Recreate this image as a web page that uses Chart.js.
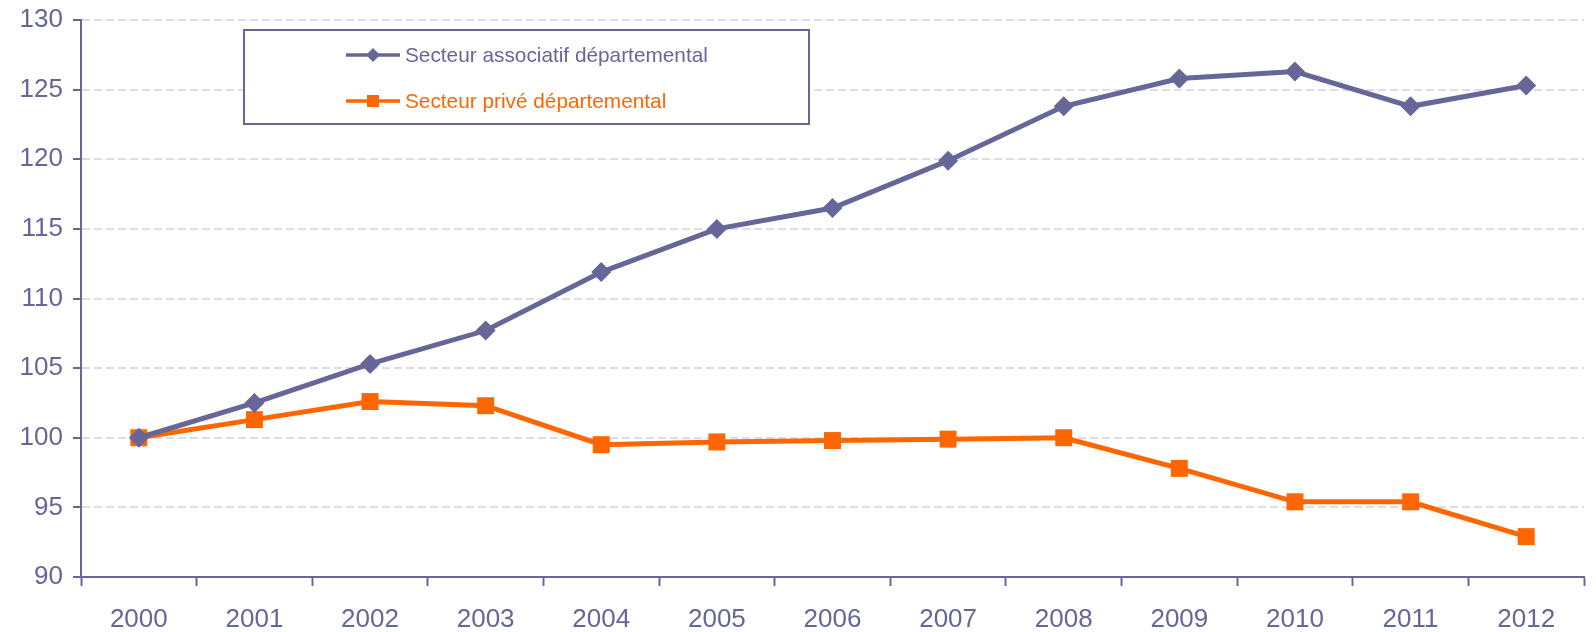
<!DOCTYPE html>
<html>
<head>
<meta charset="utf-8">
<script src="https://cdn.jsdelivr.net/npm/chart.js@4/dist/chart.umd.min.js"></script>
<style>
  html, body { margin: 0; padding: 0; background: #fff; }
  #wrap { position: relative; width: 1596px; height: 632px; }
</style>
</head>
<body>
<div id="wrap"><canvas id="chart"></canvas></div>
<script>
// categories + series
const years = ['2000', '2001', '2002', '2003', '2004', '2005', '2006', '2007', '2008', '2009', '2010', '2011', '2012'];
const associatif = [100, 102.5, 105.3, 107.7, 111.9, 115.0, 116.5, 119.9, 123.8, 125.8, 126.3, 123.8, 125.3];
const prive = [100, 101.3, 102.6, 102.3, 99.5, 99.7, 99.8, 99.9, 100.0, 97.8, 95.4, 95.4, 92.9];
const seriesNames = ['Secteur associatif départemental', 'Secteur privé départemental'];

const PURPLE = '#666699';
const ORANGE = '#FF6600';
const GRID = '#DCDCEC';
const FONT = '"Liberation Sans", Arial, sans-serif';

// boxed legend in the top-left of the plot
const boxLegend = {
    id: 'boxLegend',
    afterDraw(chart) {
        const ctx = chart.ctx;
        ctx.save();
        ctx.fillStyle = '#fff';
        ctx.fillRect(244, 30, 565, 94);
        ctx.strokeStyle = PURPLE;
        ctx.lineWidth = 2;
        ctx.strokeRect(244, 30, 565, 94);

        const rows = [
            { y: 55, color: PURPLE, shape: 'diamond', text: seriesNames[0] },
            { y: 101, color: ORANGE, shape: 'square', text: seriesNames[1] }
        ];
        rows.forEach(r => {
            ctx.strokeStyle = r.color;
            ctx.lineWidth = 3.5;
            ctx.beginPath();
            ctx.moveTo(346, r.y);
            ctx.lineTo(400, r.y);
            ctx.stroke();
            ctx.fillStyle = r.color;
            ctx.beginPath();
            if (r.shape === 'diamond') {
                ctx.moveTo(373, r.y - 7);
                ctx.lineTo(380, r.y);
                ctx.lineTo(373, r.y + 7);
                ctx.lineTo(366, r.y);
                ctx.closePath();
                ctx.fill();
            } else {
                ctx.fillRect(367, r.y - 6, 12, 12);
            }
            ctx.font = '20.8px ' + FONT;
            ctx.textBaseline = 'middle';
            ctx.textAlign = 'left';
            ctx.fillText(r.text, 405, r.y + 1);
        });
        ctx.restore();
    }
};

new Chart(document.getElementById('chart'), {
    type: 'line',
    data: {
        labels: years,
        datasets: [{
            label: seriesNames[0],
            data: associatif,
            borderColor: PURPLE,
            backgroundColor: PURPLE,
            borderWidth: 5,
            pointStyle: 'rectRot',
            pointRadius: 10,
            pointBorderWidth: 0,
            tension: 0
        }, {
            label: seriesNames[1],
            data: prive,
            borderColor: ORANGE,
            backgroundColor: ORANGE,
            borderWidth: 5,
            pointStyle: 'rect',
            pointRadius: 12,
            pointBorderWidth: 0,
            tension: 0
        }]
    },
    options: {
        responsive: true,
        maintainAspectRatio: false,
        animation: false,
        layout: { padding: { top: 20, right: 2, left: 0, bottom: 0 } },
        plugins: {
            legend: { display: false },
            tooltip: { enabled: false }
        },
        scales: {
            x: {
                offset: true,
                grid: {
                    offset: true,
                    drawOnChartArea: false,
                    tickLength: 9,
                    tickColor: PURPLE,
                    tickWidth: 2
                },
                border: { color: PURPLE, width: 2 },
                ticks: {
                    color: PURPLE,
                    padding: 18,
                    maxRotation: 0,
                    font: { family: FONT, size: 26 }
                },
                afterFit(s) { s.height = 55; }
            },
            y: {
                min: 90,
                max: 130,
                ticks: {
                    stepSize: 5,
                    color: PURPLE,
                    padding: 10,
                    // small lineHeight so the top label does not push the plot down
                    font: { family: FONT, size: 26, lineHeight: 0.5 }
                },
                grid: {
                    color: GRID,
                    lineWidth: 2,
                    tickLength: 8,
                    tickColor: PURPLE,
                    tickWidth: 2
                },
                border: { color: PURPLE, width: 2, dash: [8, 4] },
                afterFit(s) { s.width = 81; }
            }
        }
    },
    plugins: [boxLegend]
});
</script>
</body>
</html>
